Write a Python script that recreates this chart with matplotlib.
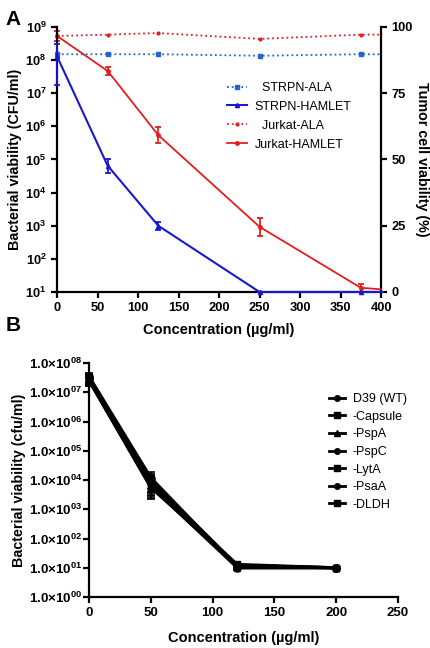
import matplotlib.pyplot as plt

plt.rcParams['font.family'] = ['Liberation Sans', 'DejaVu Sans']
plt.rcParams['mathtext.fontset'] = 'custom'
plt.rcParams['mathtext.rm'] = 'Liberation Sans'
plt.rcParams['mathtext.bf'] = 'Liberation Sans:bold'

# Panel A data
conc_a = [0, 62.5, 125, 250, 375, 400]
strpn_ala = [1.5e8, 1.5e8, 1.5e8, 1.35e8, 1.5e8, 1.5e8]
strpn_hamlet = [1.3e8, 6.5e4, 1.0e3, 10, 10, 10]
strpn_hamlet_lo = [1.8e7, 4.0e4, 7.5e2, 10, 10, 10]
strpn_hamlet_hi = [3.0e8, 1.0e5, 1.3e3, 10, 10, 10]
jurkat_ala = [96.6, 97.1, 97.7, 95.5, 97.1, 97.1]
jurkat_hamlet = [96.6, 83.4, 59.2, 24.6, 1.6, 1.0]
jurkat_hamlet_err = [1.8, 1.5, 3.0, 3.3, 1.5, 0]

# Panel B data
conc_b = [0, 50, 120, 200]
strains = ['D39 (WT)', '-Capsule', '-PspA', '-PspC', '-LytA', '-PsaA', '-DLDH']
strain_markers = ['o', 's', '^', 'o', 's', 'o', 's']
strain_values = [
    [3.0e7, 8.0e3, 11, 10],
    [2.8e7, 1.0e4, 12, 10],
    [2.5e7, 6.0e3, 10, 10],
    [3.2e7, 9.0e3, 11, 10],
    [2.6e7, 5.5e3, 13, 10],
    [3.5e7, 1.2e4, 10, 10],
    [2.9e7, 7.0e3, 12, 10],
]
strain_err = [0.35, 0.6, 0.15, 0.05]  # fraction of value

fig = plt.figure(figsize=(4.3, 6.48), dpi=100)

blue_ala = '#2464cc'
blue_ham = '#1818d0'
red = '#e41e1e'

# ---------- Panel A ----------
ax = fig.add_axes([0.1326, 0.5494, 0.7535, 0.409])
ax.set_yscale('log')
ax.set_xlim(0, 400)
ax.set_ylim(10, 1e9)

ax2 = ax.twinx()
ax2.set_ylim(0, 100)
# keep the left-axis lines above the twin axes
ax.set_zorder(ax2.get_zorder() + 1)
ax.patch.set_visible(False)

l1, = ax.plot(conc_a, strpn_ala, ':', color=blue_ala, lw=1.3, marker='s', ms=3.5,
              markevery=[0, 1, 2, 3, 4], clip_on=False, zorder=3)
yerr = [[v - lo for v, lo in zip(strpn_hamlet, strpn_hamlet_lo)],
        [hi - v for v, hi in zip(strpn_hamlet, strpn_hamlet_hi)]]
ax.errorbar(conc_a, strpn_hamlet, yerr=yerr, fmt='none', ecolor=blue_ham, elinewidth=1.3,
            capsize=2.5, capthick=1.3, clip_on=False, zorder=3)
l2, = ax.plot(conc_a, strpn_hamlet, '-', color=blue_ham, lw=1.5, marker='^', ms=3,
              markevery=[0, 1, 2, 3, 4], clip_on=False, zorder=4)

ax.spines['top'].set_visible(False)
ax.spines['right'].set_visible(False)
for s in ['left', 'bottom']:
    ax.spines[s].set_linewidth(1.6)
    ax.spines[s].set_zorder(2)
ax.set_yticks([10.0 ** k for k in range(1, 10)])
ax.set_yticklabels([r'$\mathbf{10^{%d}}$' % k for k in range(1, 10)])
ax.minorticks_off()
ax.set_xticks(range(0, 401, 50))
ax.tick_params(axis='both', width=1.6, length=4, labelsize=9.3, direction='out')
for t in ax.get_xticklabels():
    t.set_fontweight('bold')
ax.set_xlabel('Concentration (µg/ml)', fontsize=10.5, fontweight='bold', labelpad=6)
ax.set_ylabel('Bacterial viability (CFU/ml)', fontsize=10.3, fontweight='bold', labelpad=2)

for s in ['top', 'left', 'bottom']:
    ax2.spines[s].set_visible(False)
ax2.spines['right'].set_linewidth(1.6)
l3, = ax2.plot(conc_a, jurkat_ala, ':', color=red, lw=1.3, marker='o', ms=2,
               markevery=[0, 1, 2, 3, 4], clip_on=False, zorder=3)
ax2.errorbar(conc_a[:5], jurkat_hamlet[:5], yerr=jurkat_hamlet_err[:5], fmt='none', ecolor=red,
             elinewidth=1.3, capsize=2.5, capthick=1.3, clip_on=False)
l4, = ax2.plot(conc_a, jurkat_hamlet, '-', color=red, lw=1.3, marker='o', ms=2.5,
               markevery=[0, 1, 2, 3, 4], clip_on=False, zorder=4)
ax2.set_yticks([0, 25, 50, 75, 100])
ax2.tick_params(axis='y', width=1.6, length=4, labelsize=9.3)
for t in ax2.get_yticklabels():
    t.set_fontweight('bold')
ax2.set_ylabel('Tumor cell viability (%)', fontsize=10.3, fontweight='bold', rotation=270, labelpad=12)

ax.legend([l1, l2, l3, l4], ['  STRPN-ALA', 'STRPN-HAMLET', '  Jurkat-ALA', 'Jurkat-HAMLET'],
          loc='upper left', bbox_to_anchor=(0.49, 0.835), frameon=False, fontsize=9,
          handlelength=1.6, labelspacing=0.55, handletextpad=0.6)

fig.text(0.012, 0.985, 'A', fontsize=15, fontweight='bold', va='top')

# ---------- Panel B ----------
bx = fig.add_axes([0.207, 0.0787, 0.7186, 0.361])
bx.set_yscale('log')
bx.set_xlim(0, 250)
bx.set_ylim(1, 1e8)
for name, mk, vals in zip(strains, strain_markers, strain_values):
    bx.errorbar(conc_b, vals, yerr=[v * e for v, e in zip(vals, strain_err)], fmt='none',
                ecolor='black', elinewidth=1.2, capsize=3, capthick=1.2, clip_on=False)
    bx.plot(conc_b, vals, '-', color='black', lw=2.2, marker=mk, ms=5, clip_on=False)
for s in ['top', 'right']:
    bx.spines[s].set_visible(False)
for s in ['left', 'bottom']:
    bx.spines[s].set_linewidth(1.6)
bx.set_yticks([10.0 ** k for k in range(0, 9)])
bx.set_yticklabels([r'$\mathbf{1.0{\times}10^{0%d}}$' % k for k in range(0, 9)])
bx.minorticks_off()
bx.set_xticks(range(0, 251, 50))
bx.tick_params(axis='both', width=1.6, length=4, labelsize=9.5)
bx.tick_params(axis='y', pad=1)
for t in bx.get_xticklabels():
    t.set_fontweight('bold')
bx.set_xlabel('Concentration (µg/ml)', fontsize=10.5, fontweight='bold', labelpad=8)
bx.set_ylabel('Bacterial viability (cfu/ml)', fontsize=10.3, fontweight='bold', labelpad=2)

leg_handles = []
for mk in strain_markers:
    h, = bx.plot([], [], '-', color='black', lw=2, marker=mk, ms=4)
    leg_handles.append(h)
bx.legend(leg_handles, strains, loc='upper left', bbox_to_anchor=(0.74, 0.92), frameon=False,
          fontsize=9, handlelength=1.3, labelspacing=0.45, handletextpad=0.6)

fig.text(0.012, 0.512, 'B', fontsize=15, fontweight='bold', va='top')

fig.savefig('out.png', dpi=100)
